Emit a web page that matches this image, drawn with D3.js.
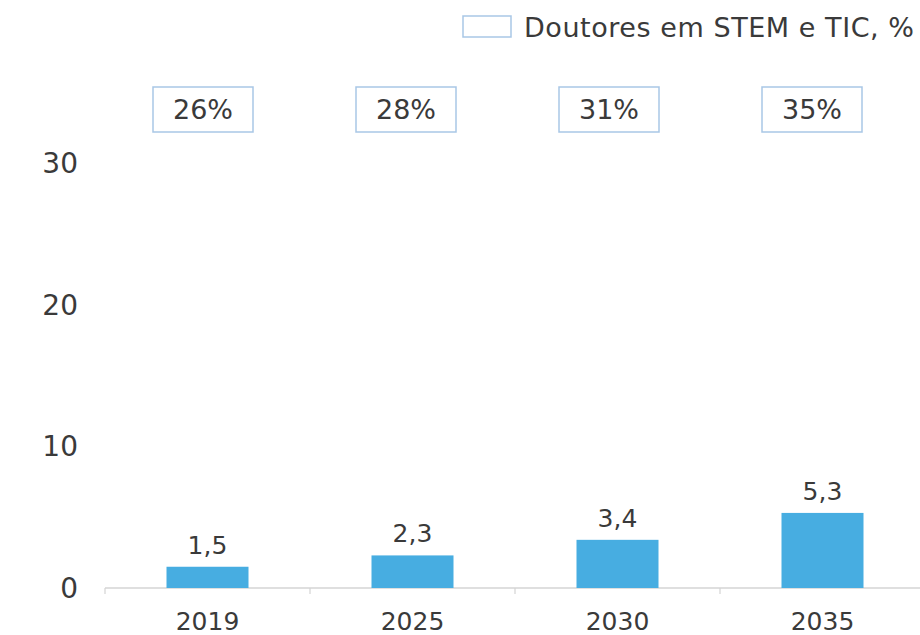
<!DOCTYPE html>
<html>
<head>
<meta charset="utf-8">
<script src="https://cdn.jsdelivr.net/npm/d3@7"></script>
<style>
  body { margin: 0; background: #fff; }
  text { font-family: "DejaVu Sans", sans-serif; fill: #3a3a3a; }
</style>
</head>
<body>
<div id="chart"></div>
<script>
// donnees
var years = ["2019", "2025", "2030", "2035"];
var values = [1.5, 2.3, 3.4, 5.3];
var shares = ["26%", "28%", "31%", "35%"];
var yTicks = [0, 10, 20, 30];
var legendLabel = "Doutores em STEM e TIC, %";

var W = 920, H = 635;
var svg = d3.select("#chart").append("svg").attr("width", W).attr("height", H);

// echelles
var x = d3.scaleBand().domain(years).range([105, 925]).padding(0);
var y = d3.scaleLinear().domain([0, 30]).range([588, 163]);
var boxX = d3.scalePoint().domain(shares).range([203, 812]);

// labels axe y
svg.append("g").selectAll("text").data(yTicks).join("text")
    .attr("x", 78)
    .attr("y", function(d){ return y(d); })
    .attr("dy", "0.36em")
    .attr("text-anchor", "end")
    .style("font-size", "28px")
    .text(function(d){ return d; });

// axe x
var xAxis = svg.append("g").attr("transform", "translate(0," + y(0) + ")")
    .call(d3.axisBottom(x).tickSize(0).tickPadding(24));
xAxis.select(".domain").remove();
xAxis.selectAll("text")
    .style("font-family", "DejaVu Sans, sans-serif")
    .style("font-size", "25px")
    .style("fill", "#3a3a3a");

svg.append("line")
    .attr("x1", 105).attr("x2", W)
    .attr("y1", y(0)).attr("y2", y(0))
    .style("stroke", "#d4d4d4").style("stroke-width", 1.5);

// petits traits entre categories
svg.append("g").selectAll("line").data(years).join("line")
    .attr("x1", function(d){ return x(d); })
    .attr("x2", function(d){ return x(d); })
    .attr("y1", y(0)).attr("y2", y(0) + 6)
    .style("stroke", "#d4d4d4").style("stroke-width", 1.2);

// barres
var bw = x.bandwidth() * 0.4;
svg.append("g").selectAll("rect").data(values).join("rect")
    .attr("x", function(d, i){ return x(years[i]) + x.bandwidth() / 2 - bw / 2; })
    .attr("y", function(d){ return y(d); })
    .attr("width", bw)
    .attr("height", function(d){ return y(0) - y(d); })
    .style("fill", "#47ade1");

// valeurs au dessus des barres
svg.append("g").selectAll("text").data(values).join("text")
    .attr("x", function(d, i){ return x(years[i]) + x.bandwidth() / 2; })
    .attr("y", function(d){ return y(d) - 13; })
    .attr("text-anchor", "middle")
    .style("font-size", "25px")
    .text(function(d){ return String(d).replace(".", ","); });

// boites en haut
var boxes = svg.append("g").selectAll("g").data(shares).join("g")
    .attr("transform", function(d){ return "translate(" + boxX(d) + ",109)"; });
boxes.append("rect")
    .attr("x", -50).attr("y", -22)
    .attr("width", 100).attr("height", 45)
    .style("fill", "none").style("stroke", "#a9c7e6").style("stroke-width", 1.5);
boxes.append("text")
    .attr("text-anchor", "middle")
    .attr("dy", "0.36em")
    .style("font-size", "27px")
    .text(function(d){ return d; });

// legende
var leg = svg.append("g");
leg.append("rect")
    .attr("x", 463).attr("y", 16)
    .attr("width", 48).attr("height", 21)
    .style("fill", "none").style("stroke", "#a9c7e6").style("stroke-width", 1.5);
leg.append("text")
    .attr("x", 524).attr("y", 27)
    .attr("dy", "0.36em")
    .attr("textLength", 390)
    .attr("lengthAdjust", "spacing")
    .style("font-size", "27px")
    .text(legendLabel);
</script>
</body>
</html>
